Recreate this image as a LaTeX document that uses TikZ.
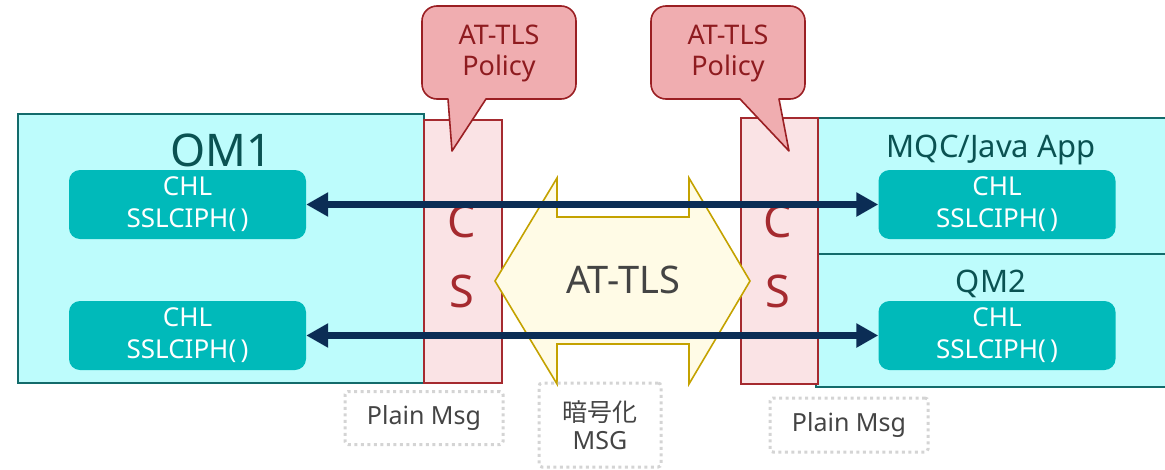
\documentclass[tikz,border=0pt]{standalone}
\usepackage{fontspec}
\setmainfont{Noto Sans}
\newfontfamily\cjkfont{Noto Sans CJK JP}
\usetikzlibrary{arrows.meta}
\definecolor{qmfill}{HTML}{BDFCFC}
\definecolor{qmline}{HTML}{136B6B}
\definecolor{qmtext}{HTML}{0A5252}
\definecolor{chlfill}{HTML}{00BABA}
\definecolor{barfill}{HTML}{FAE3E5}
\definecolor{barline}{HTML}{A52A2F}
\definecolor{callfill}{HTML}{F0ADB0}
\definecolor{callline}{HTML}{9A1F23}
\definecolor{calltext}{HTML}{8E1B1F}
\definecolor{arrowcol}{HTML}{0B2D55}
\definecolor{hexfill}{HTML}{FFFBE6}
\definecolor{hexline}{HTML}{C4A200}
\definecolor{dotline}{HTML}{D4D4D4}
\definecolor{graytext}{HTML}{444444}
\tikzset{
  qmbox/.style={draw=qmline, fill=qmfill, line width=1.6pt, inner sep=0pt},
  barbox/.style={draw=barline, fill=barfill, line width=1.6pt, inner sep=0pt},
  chlbox/.style={fill=chlfill, rounded corners=11pt, minimum width=237pt, minimum height=69pt,
    inner sep=0pt, text=white, align=center, font=\fontsize{26}{32}\selectfont},
  qmlabel/.style={text=qmtext, anchor=base, inner sep=0pt},
  cslabel/.style={text=barline, anchor=base, inner sep=0pt, font=\fontsize{45}{45}\selectfont},
  calloutshape/.style={draw=callline, fill=callfill, line width=1.6pt, line join=round},
  calltxt/.style={text=calltext, align=center, font=\fontsize{27}{31}\selectfont, inner sep=0pt},
  hexshape/.style={draw=hexline, fill=hexfill, line width=1.6pt},
  biarrow/.style={draw=arrowcol, line width=7pt, {Triangle[length=22pt,width=23pt]}-{Triangle[length=22pt,width=23pt]}},
  dotbox/.style={draw=dotline, line width=3pt, dash pattern=on 3pt off 3.5pt, rounded corners=3pt,
    inner sep=0pt, text=graytext, align=center, font=\fontsize{25}{28}\selectfont},
}
\begin{document}
\begin{tikzpicture}[x=1pt,y=-1pt]
\useasboundingbox (0,0) rectangle (1165,469);
% queue manager boxes
\node[qmbox, minimum width=406pt, minimum height=269pt] (qm1) at (221,248.5) {};
\node[qmbox, minimum width=354pt, minimum height=136pt] (mqc) at (994,186) {};
\node[qmbox, minimum width=354pt, minimum height=133pt] (qm2) at (993,320.5) {};
% pink bars
\node[barbox, minimum width=78pt, minimum height=263pt] (barl) at (463,251.5) {};
\node[barbox, minimum width=77pt, minimum height=266pt] (barr) at (779.5,251) {};
% hexagon double arrow
\draw[hexshape] (495,281) -- (557,178) -- (557,217) -- (689,217) -- (689,178) -- (750,281)
  -- (689,384) -- (689,344) -- (557,344) -- (557,384) -- cycle;
\node[text=graytext, anchor=base, inner sep=0pt, font=\fontsize{38}{38}\selectfont] (tls) at (623,293) {AT-TLS};
% callouts
\draw[calloutshape] (448,99) -- (452,151) -- (486,99) [rounded corners=15pt] -- (576,99) -- (576,6)
  -- (422,6) -- (422,99) [sharp corners] -- cycle;
\node[calltxt] (poll) at (499,53) {AT-TLS\\Policy};
\draw[calloutshape] (740,99) -- (789,151) -- (779,99) [rounded corners=15pt] -- (805,99) -- (805,6)
  -- (651,6) -- (651,99) [sharp corners] -- cycle;
\node[calltxt] (polr) at (728,53) {AT-TLS\\Policy};
% labels
\node[qmlabel, font=\fontsize{45}{45}\selectfont] (om1) at (221,166) {OM1};
\node[qmlabel, font=\fontsize{31}{31}\selectfont] (mqct) at (991,157) {MQC/Java App};
\node[qmlabel, font=\fontsize{31}{31}\selectfont] (qm2t) at (991,292) {QM2};
\node[cslabel] (cl) at (462,237) {C};
\node[cslabel] (sl) at (462,307) {S};
\node[cslabel] (cr) at (778,237) {C};
\node[cslabel] (sr) at (778,307) {S};
% channel boxes
\node[chlbox] (l1) at (187.5,204.5) {CHL\\SSLCIPH(\,)};
\node[chlbox] (l2) at (187.5,335.5) {CHL\\SSLCIPH(\,)};
\node[chlbox] (r1) at (997,204.5) {CHL\\SSLCIPH(\,)};
\node[chlbox] (r2) at (997,335.5) {CHL\\SSLCIPH(\,)};
% arrows
\draw[biarrow] (l1.east) -- (r1.west);
\draw[biarrow] (l2.east) -- (r2.west);
% dotted message boxes
\node[dotbox, minimum width=158pt, minimum height=53pt] (pml) at (424,418) {Plain Msg};
\node[dotbox, minimum width=122pt, minimum height=84pt] (enc) at (600,425) {{\cjkfont 暗号化}\\MSG};
\node[dotbox, minimum width=158pt, minimum height=54pt] (pmr) at (849,425) {Plain Msg};
\end{tikzpicture}
\end{document}
